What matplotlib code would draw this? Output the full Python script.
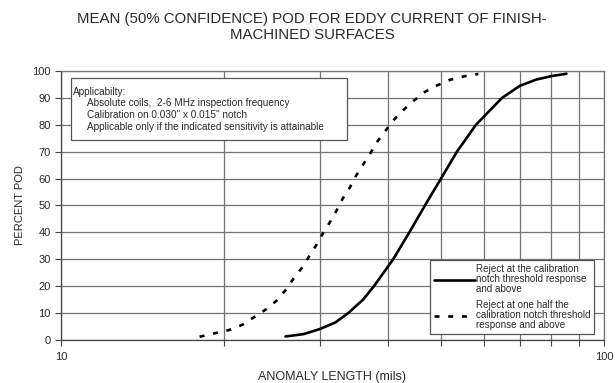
import matplotlib
matplotlib.use("Agg")
import matplotlib.pyplot as plt
from matplotlib.patches import Rectangle
from matplotlib.ticker import FixedLocator, NullFormatter

plt.rcParams["font.family"] = ["Liberation Sans", "DejaVu Sans"]

# Mean POD curves (anomaly length in mils, percent POD)
full_len = [25.9, 28.0, 30.0, 32.0, 33.8, 36.0, 37.7, 40.9, 43.8, 46.8,
            50.1, 53.6, 58.1, 64.9, 70.0, 75.0, 80.0, 85.3]
full_pod = [1.3, 2.2, 4.1, 6.5, 10.0, 15.0, 20.0, 30.0, 40.0, 50.0,
            60.0, 70.0, 80.0, 90.0, 94.5, 96.8, 98.1, 99.0]

half_len = [18.0, 19.2, 20.4, 21.6, 22.8, 23.9, 25.0, 26.0, 26.8, 27.8,
            28.6, 29.5, 30.3, 31.3, 32.2, 33.0, 34.0, 34.9, 35.9, 37.1,
            38.2, 39.6, 40.9, 42.6, 44.6, 46.6, 49.2, 52.0, 55.5, 58.7]
half_pod = [1.2, 2.5, 3.7, 5.7, 8.8, 11.5, 14.8, 18.9, 22.8, 26.9,
            30.9, 35.2, 39.3, 43.9, 48.3, 52.5, 56.5, 60.9, 64.8, 69.3,
            73.6, 77.8, 81.6, 85.3, 88.9, 92.0, 94.6, 96.7, 98.1, 98.9]

labels = [
    "Reject at the calibration\nnotch threshold response\nand above",
    "Reject at one half the\ncalibration notch threshold\nresponse and above",
]

notes_head = "Applicabilty:"
notes = [
    "Absolute coils,  2-6 MHz inspection frequency",
    "Calibration on 0.030\" x 0.015\" notch",
    "Applicable only if the indicated sensitivity is attainable",
]

x_major = [10, 100]
x_minor = [20, 30, 40, 50, 60, 70, 80, 90]
y_ticks = list(range(0, 101, 10))

grid_c = "#737373"
text_c = "#2a2a2a"

fig = plt.figure(figsize=(6.16, 3.83), dpi=100)
ax = fig.add_axes([0.099, 0.1123, 0.8815, 0.7023])

ax.set_xscale("log")
ax.set_xlim(10, 100)
ax.set_ylim(0, 100)

ax.xaxis.set_major_locator(FixedLocator(x_major))
ax.xaxis.set_minor_locator(FixedLocator(x_minor))
ax.xaxis.set_minor_formatter(NullFormatter())
ax.set_xticklabels([str(v) for v in x_major])
ax.set_yticks(y_ticks)

ax.grid(True, which="both", axis="x", color=grid_c, lw=0.9)
ax.grid(True, which="major", axis="y", color=grid_c, lw=0.9)
ax.set_axisbelow(True)

for s in ax.spines.values():
    s.set_color(grid_c)
    s.set_linewidth(0.9)
ax.spines["left"].set_color("#444444")
ax.spines["bottom"].set_color("#444444")

ax.tick_params(axis="both", which="both", direction="out", length=4,
               width=0.8, color="#444444", labelsize=8, labelcolor=text_c)
ax.tick_params(axis="x", which="major", pad=5)

ax.plot(full_len, full_pod, color="black", lw=1.9, label=labels[0],
        solid_capstyle="round", solid_joinstyle="round", zorder=3)
ax.plot(half_len, half_pod, color="black", lw=1.9, ls=(0, (1.9, 3.3)),
        label=labels[1], zorder=3)

# applicability note box
ax.add_patch(Rectangle((0.018, 0.743), 0.508, 0.23, transform=ax.transAxes,
                       facecolor="white", edgecolor="#555555", lw=0.9,
                       zorder=4))
ax.text(0.022, 0.921, notes_head, transform=ax.transAxes, fontsize=7.2,
        color=text_c, va="center", zorder=5)
for i, line in enumerate(notes):
    ax.text(0.047, 0.880 - i * 0.0435, line, transform=ax.transAxes,
            fontsize=7.2, color=text_c, va="center", zorder=5)

leg = ax.legend(loc="lower right", bbox_to_anchor=(0.982, 0.022),
                borderaxespad=0, fontsize=7.1, frameon=True, fancybox=False,
                edgecolor="#555555", framealpha=1, handlelength=4.1,
                handletextpad=0.1, labelspacing=0.6, borderpad=0.4)
leg.get_frame().set_linewidth(0.9)
for t in leg.get_texts():
    t.set_color(text_c)
    t.set_linespacing(1.0)

ax.set_xlabel("ANOMALY LENGTH (mils)", fontsize=9, color=text_c, labelpad=6)
ax.set_ylabel("PERCENT POD", fontsize=8, color=text_c, labelpad=5)

fig.text(0.507, 0.929, "MEAN (50% CONFIDENCE) POD FOR EDDY CURRENT OF FINISH-\nMACHINED SURFACES",
         ha="center", va="center", fontsize=10.8, color=text_c, linespacing=1.15)

fig.savefig("out.png", dpi=100)
